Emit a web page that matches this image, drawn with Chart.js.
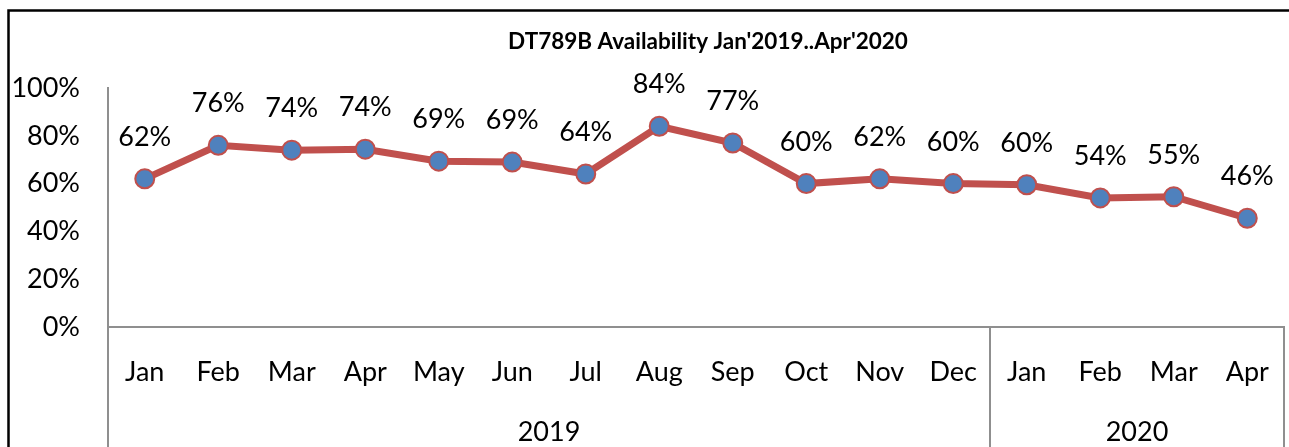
<!DOCTYPE html>
<html>
<head>
<meta charset="utf-8">
<script src="https://cdn.jsdelivr.net/npm/chart.js@4/dist/chart.umd.min.js"></script>
<style>
  html, body { margin: 0; padding: 0; background: #ffffff; }
  #wrap { width: 1289px; height: 447px; position: relative; }
</style>
</head>
<body>
<div id="wrap"><canvas id="c" width="1289" height="447"></canvas></div>
<script>
const titleText = "DT789B Availability Jan'2019..Apr'2020";
const categories = ['Jan','Feb','Mar','Apr','May','Jun','Jul','Aug','Sep','Oct','Nov','Dec','Jan','Feb','Mar','Apr'];
const availability = [62, 76, 74, 74.4, 69.4, 69, 64, 84, 77, 60, 62, 60, 59.5, 54, 54.5, 45.5];
const yearLabels = ['2019', '2020'];
const yearSpans = [12, 4];
const yMin = 0, yMax = 100, yStep = 20;

const FONT = 'Lato, "Open Sans", sans-serif';
const AXIS_GREY = '#8f8f8f';
const TXT = 27;

const decorPlugin = {
  id: 'decor',
  beforeDraw(chart) {
    const ctx = chart.ctx;
    ctx.save();
    ctx.fillStyle = '#ffffff';
    ctx.fillRect(0, 0, chart.width, chart.height);
    ctx.strokeStyle = '#000000';
    ctx.lineWidth = 2.5;
    ctx.beginPath();
    ctx.moveTo(8.5, chart.height);
    ctx.lineTo(8.5, 10.5);
    ctx.lineTo(chart.width, 10.5);
    ctx.stroke();
    ctx.restore();
  },
  afterDraw(chart) {
    const ctx = chart.ctx;
    const xs = chart.scales.x;
    const area = chart.chartArea;
    ctx.save();
    ctx.fillStyle = '#000000';
    ctx.font = 'bold 22.5px ' + FONT;
    ctx.textAlign = 'center';
    ctx.textBaseline = 'middle';
    ctx.fillText(titleText, 708, 42);

    const bounds = [area.left];
    let idx = 0;
    yearSpans.forEach((span, i) => {
      idx += span;
      if (i === yearSpans.length - 1) bounds.push(area.right);
      else bounds.push((xs.getPixelForValue(idx - 1) + xs.getPixelForValue(idx)) / 2);
    });
    ctx.strokeStyle = AXIS_GREY;
    ctx.lineWidth = 2;
    bounds.forEach(b => {
      ctx.beginPath();
      ctx.moveTo(Math.round(b), area.bottom);
      ctx.lineTo(Math.round(b), chart.height);
      ctx.stroke();
    });
    ctx.fillStyle = '#000000';
    ctx.font = TXT + 'px ' + FONT;
    ctx.textAlign = 'center';
    ctx.textBaseline = 'middle';
    yearLabels.forEach((lab, i) => {
      ctx.fillText(lab, (bounds[i] + bounds[i + 1]) / 2, 432);
    });

    const meta = chart.getDatasetMeta(0);
    ctx.textBaseline = 'alphabetic';
    meta.data.forEach((pt, i) => {
      ctx.fillText(Math.round(availability[i]) + '%', pt.x, pt.y - 33);
    });
    ctx.restore();
  }
};

new Chart(document.getElementById('c'), {
  type: 'line',
  data: {
    labels: categories,
    datasets: [{
      data: availability,
      borderColor: '#C0504D',
      borderWidth: 7,
      pointRadius: 9.5,
      pointHoverRadius: 9.5,
      pointBackgroundColor: '#4F81BD',
      pointBorderColor: '#C0504D',
      pointBorderWidth: 2,
      tension: 0,
      clip: false
    }]
  },
  options: {
    responsive: false,
    animation: false,
    devicePixelRatio: 1,
    layout: { autoPadding: false, padding: { top: 88, right: 5, bottom: 0, left: 0 } },
    plugins: { legend: { display: false }, title: { display: false }, tooltip: { enabled: false } },
    scales: {
      x: {
        type: 'category',
        offset: true,
        grid: { display: false, drawTicks: false },
        border: { display: true, color: AXIS_GREY, width: 2 },
        ticks: { color: '#000000', font: { family: FONT, size: TXT }, padding: 29, maxRotation: 0, autoSkip: false },
        afterFit(scale) { scale.height = 120; scale.paddingLeft = 0; scale.paddingRight = 0; }
      },
      y: {
        min: yMin, max: yMax,
        grid: { display: false, drawTicks: false },
        border: { display: true, color: AXIS_GREY, width: 2 },
        ticks: { stepSize: yStep, color: '#000000', font: { family: FONT, size: TXT }, padding: 28,
                 callback: v => v + '%' },
        afterFit(scale) { scale.width = 108; }
      }
    }
  },
  plugins: [decorPlugin]
});
</script>
</body>
</html>
